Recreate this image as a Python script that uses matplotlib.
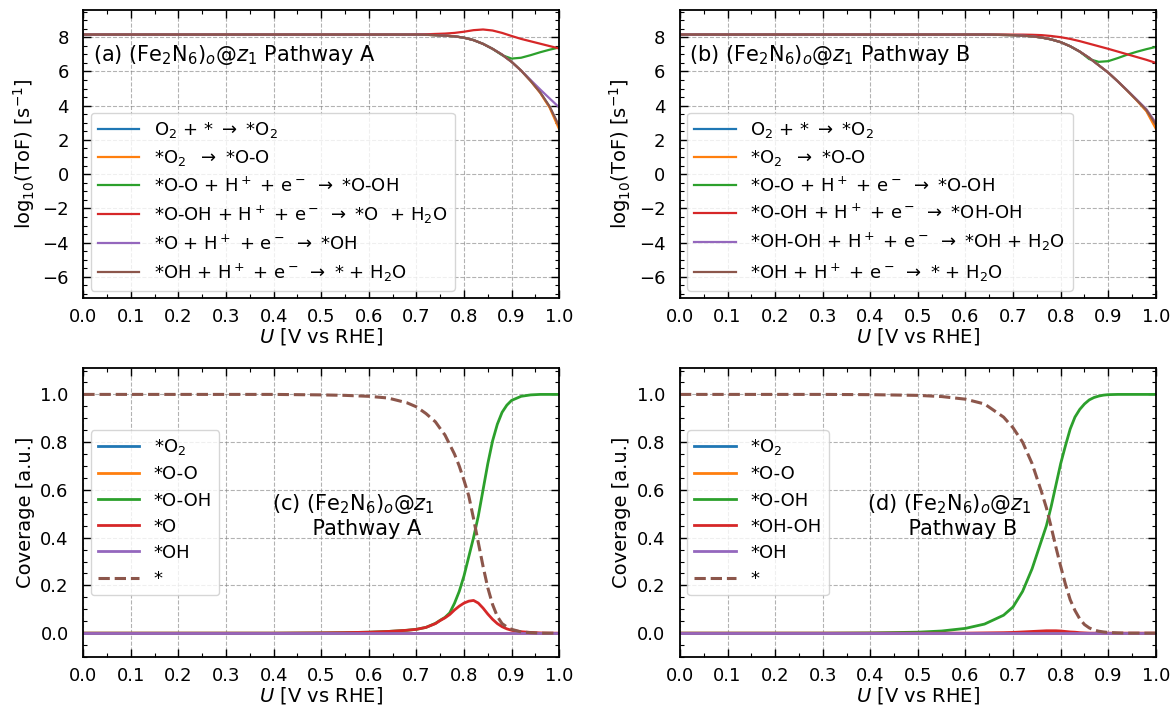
import matplotlib
matplotlib.use("Agg")
import matplotlib.pyplot as plt
from matplotlib.ticker import MultipleLocator

# ---------------- data ----------------
U_tof = [0.0, 0.1, 0.2, 0.3, 0.4, 0.5, 0.6, 0.64, 0.66, 0.68, 0.70, 0.72, 0.74, 0.76, 0.78,
         0.80, 0.82, 0.84, 0.86, 0.88, 0.90, 0.92, 0.94, 0.96, 0.98, 1.0]

# Pathway A  log10(ToF)
tofA_1 = [8.15, 8.15, 8.15, 8.15, 8.15, 8.15, 8.15, 8.15, 8.15, 8.15, 8.15, 8.14, 8.12, 8.09, 8.05,
          7.97, 7.83, 7.61, 7.32, 6.98, 6.56, 6.05, 5.45, 4.78, 3.93, 2.75]
tofA_2 = [8.15, 8.15, 8.15, 8.15, 8.15, 8.15, 8.15, 8.15, 8.15, 8.15, 8.15, 8.14, 8.12, 8.09, 8.05,
          7.97, 7.83, 7.61, 7.32, 6.98, 6.56, 6.05, 5.44, 4.75, 3.88, 2.62]
tofA_3 = [8.15, 8.15, 8.15, 8.15, 8.15, 8.15, 8.15, 8.15, 8.15, 8.15, 8.15, 8.14, 8.12, 8.09, 8.05,
          7.97, 7.83, 7.61, 7.32, 6.95, 6.75, 6.80, 6.95, 7.12, 7.27, 7.40]
tofA_4 = [8.15, 8.15, 8.15, 8.15, 8.15, 8.15, 8.15, 8.15, 8.15, 8.15, 8.16, 8.17, 8.19, 8.21, 8.25,
          8.32, 8.41, 8.45, 8.39, 8.25, 8.07, 7.90, 7.76, 7.62, 7.48, 7.34]
tofA_5 = [8.15, 8.15, 8.15, 8.15, 8.15, 8.15, 8.15, 8.15, 8.15, 8.15, 8.15, 8.14, 8.12, 8.09, 8.05,
          7.97, 7.83, 7.61, 7.32, 6.98, 6.56, 6.05, 5.50, 4.95, 4.42, 3.90]
tofA_6 = [8.15, 8.15, 8.15, 8.15, 8.15, 8.15, 8.15, 8.15, 8.15, 8.15, 8.15, 8.14, 8.12, 8.09, 8.05,
          7.97, 7.83, 7.61, 7.32, 6.98, 6.56, 6.05, 5.45, 4.78, 3.95, 2.80]

# Pathway B  log10(ToF)
tofB_1 = [8.15, 8.15, 8.15, 8.15, 8.15, 8.15, 8.15, 8.15, 8.14, 8.13, 8.12, 8.09, 8.05, 7.98, 7.87,
          7.71, 7.47, 7.16, 6.79, 6.36, 5.93, 5.42, 4.88, 4.32, 3.72, 2.80]
tofB_2 = [8.15, 8.15, 8.15, 8.15, 8.15, 8.15, 8.15, 8.15, 8.14, 8.13, 8.12, 8.09, 8.05, 7.98, 7.87,
          7.71, 7.47, 7.16, 6.79, 6.36, 5.93, 5.42, 4.87, 4.30, 3.68, 2.65]
tofB_3 = [8.15, 8.15, 8.15, 8.15, 8.15, 8.15, 8.15, 8.15, 8.14, 8.13, 8.12, 8.09, 8.05, 7.98, 7.87,
          7.71, 7.47, 7.16, 6.72, 6.56, 6.60, 6.78, 6.98, 7.15, 7.30, 7.43]
tofB_4 = [8.15, 8.15, 8.15, 8.15, 8.15, 8.15, 8.15, 8.15, 8.15, 8.15, 8.15, 8.15, 8.14, 8.12, 8.07,
          8.00, 7.90, 7.77, 7.62, 7.47, 7.32, 7.16, 7.00, 6.84, 6.68, 6.50]
tofB_5 = [8.15, 8.15, 8.15, 8.15, 8.15, 8.15, 8.15, 8.15, 8.14, 8.13, 8.12, 8.09, 8.05, 7.98, 7.87,
          7.71, 7.47, 7.16, 6.79, 6.36, 5.93, 5.42, 4.89, 4.35, 3.80, 3.00]
tofB_6 = [8.15, 8.15, 8.15, 8.15, 8.15, 8.15, 8.15, 8.15, 8.14, 8.13, 8.12, 8.09, 8.05, 7.98, 7.87,
          7.71, 7.47, 7.16, 6.79, 6.36, 5.93, 5.42, 4.88, 4.32, 3.75, 2.90]

U_cov = [0.0, 0.1, 0.2, 0.3, 0.4, 0.5, 0.55, 0.6, 0.64, 0.68, 0.70, 0.72, 0.74, 0.75, 0.76, 0.77,
         0.78, 0.79, 0.80, 0.81, 0.82, 0.83, 0.84, 0.85, 0.86, 0.87, 0.88, 0.89, 0.90, 0.92,
         0.94, 0.96, 0.98, 1.0]

zeros_cov = [0.0] * len(U_cov)

covA_OOH = [0, 0, 0, 0, 0, 0.001, 0.002, 0.004, 0.007, 0.012, 0.016, 0.024, 0.041, 0.054, 0.066,
            0.085, 0.125, 0.175, 0.24, 0.32, 0.40, 0.49, 0.60, 0.71, 0.805, 0.875, 0.925, 0.955,
            0.975, 0.992, 0.998, 1.0, 1.0, 1.0]
covA_O = [0, 0, 0, 0, 0, 0.001, 0.002, 0.004, 0.007, 0.012, 0.016, 0.024, 0.040, 0.053, 0.064,
          0.078, 0.097, 0.113, 0.126, 0.134, 0.137, 0.126, 0.105, 0.080, 0.058, 0.040, 0.027,
          0.018, 0.012, 0.006, 0.003, 0.001, 0, 0]
covA_free = [1.0, 1.0, 1.0, 1.0, 1.0, 0.998, 0.996, 0.992, 0.985, 0.965, 0.948, 0.92, 0.885, 0.857,
             0.83, 0.79, 0.75, 0.70, 0.64, 0.575, 0.48, 0.38, 0.28, 0.19, 0.12, 0.07, 0.04, 0.026,
             0.016, 0.005, 0.002, 0, 0, 0]

covB_OOH = [0, 0, 0, 0, 0.001, 0.004, 0.009, 0.02, 0.038, 0.075, 0.11, 0.175, 0.27, 0.33, 0.39,
            0.45, 0.53, 0.62, 0.71, 0.785, 0.855, 0.905, 0.937, 0.96, 0.977, 0.987, 0.993, 0.997,
            0.999, 1.0, 1.0, 1.0, 1.0, 1.0]
covB_OHOH = [0, 0, 0, 0, 0, 0, 0, 0, 0.001, 0.002, 0.003, 0.005, 0.007, 0.008, 0.009, 0.010,
             0.010, 0.010, 0.009, 0.007, 0.005, 0.004, 0.002, 0.001, 0, 0, 0, 0, 0, 0, 0, 0, 0, 0]
covB_free = [1.0, 1.0, 1.0, 1.0, 0.999, 0.996, 0.991, 0.98, 0.96, 0.905, 0.86, 0.80, 0.71, 0.65,
             0.59, 0.525, 0.445, 0.36, 0.28, 0.205, 0.14, 0.095, 0.06, 0.036, 0.022, 0.013, 0.008,
             0.005, 0.003, 0.001, 0, 0, 0, 0]

labels_A = [r"O$_2$ + * $\rightarrow$ *O$_2$",
            r"*O$_2$  $\rightarrow$ *O-O",
            r"*O-O + H$^+$ + e$^-$ $\rightarrow$ *O-OH",
            r"*O-OH + H$^+$ + e$^-$ $\rightarrow$ *O  + H$_2$O",
            r"*O + H$^+$ + e$^-$ $\rightarrow$ *OH",
            r"*OH + H$^+$ + e$^-$ $\rightarrow$ * + H$_2$O"]
labels_B = [r"O$_2$ + * $\rightarrow$ *O$_2$",
            r"*O$_2$  $\rightarrow$ *O-O",
            r"*O-O + H$^+$ + e$^-$ $\rightarrow$ *O-OH",
            r"*O-OH + H$^+$ + e$^-$ $\rightarrow$ *OH-OH",
            r"*OH-OH + H$^+$ + e$^-$ $\rightarrow$ *OH + H$_2$O",
            r"*OH + H$^+$ + e$^-$ $\rightarrow$ * + H$_2$O"]
cov_labels_A = [r"*O$_2$", "*O-O", "*O-OH", "*O", "*OH", "*"]
cov_labels_B = [r"*O$_2$", "*O-O", "*O-OH", "*OH-OH", "*OH", "*"]

titles_tof = [r"(a) (Fe$_2$N$_6$)$_o$@$z_1$ Pathway A", r"(b) (Fe$_2$N$_6$)$_o$@$z_1$ Pathway B"]
titles_cov = ["(c) (Fe$_2$N$_6$)$_o$@$z_1$\n    Pathway A", "(d) (Fe$_2$N$_6$)$_o$@$z_1$\n    Pathway B"]

xticks = [0.0, 0.1, 0.2, 0.3, 0.4, 0.5, 0.6, 0.7, 0.8, 0.9, 1.0]

# ---------------- plotting ----------------
plt.rcParams['font.size'] = 13
colors = plt.rcParams['axes.prop_cycle'].by_key()['color']

fig = plt.figure(figsize=(11.75, 7.15), dpi=100)
axTL = fig.add_axes([0.0709, 0.5828, 0.405, 0.4035])
axTR = fig.add_axes([0.5787, 0.5828, 0.405, 0.4035])
axBL = fig.add_axes([0.0709, 0.0811, 0.405, 0.404])
axBR = fig.add_axes([0.5787, 0.0811, 0.405, 0.404])


def style(ax, top):
    ax.set_xlim(0, 1)
    ax.set_xticks(xticks)
    ax.xaxis.set_minor_locator(MultipleLocator(0.05))
    if top:
        ax.set_ylim(-7.25, 9.6)
        ax.yaxis.set_major_locator(MultipleLocator(2))
        ax.yaxis.set_minor_locator(MultipleLocator(0.5))
        ax.set_ylabel(r"log$_{10}$(ToF) [s$^{-1}$]", fontsize=14, labelpad=4)
    else:
        ax.set_ylim(-0.1, 1.11)
        ax.yaxis.set_major_locator(MultipleLocator(0.2))
        ax.yaxis.set_minor_locator(MultipleLocator(0.05))
        ax.set_ylabel("Coverage [a.u.]", fontsize=14, labelpad=4)
    ax.set_xlabel(r"$U$ [V vs RHE]", fontsize=14, labelpad=0)
    ax.tick_params(which='both', direction='in', top=True, right=True, labelsize=13)
    ax.tick_params(which='major', length=6, width=1.0)
    ax.tick_params(which='minor', length=3, width=0.8)
    ax.tick_params(axis='y', which='both', pad=10.5)
    ax.tick_params(axis='x', which='both', pad=7)
    ax.grid(True, which='major', linestyle='--', color='gray', alpha=0.6, linewidth=0.8)
    for s in ax.spines.values():
        s.set_linewidth(1.3)


tofA = [tofA_1, tofA_2, tofA_3, tofA_4, tofA_5, tofA_6]
tofB = [tofB_1, tofB_2, tofB_3, tofB_4, tofB_5, tofB_6]
for ax, data, labels, title in [(axTL, tofA, labels_A, titles_tof[0]),
                                (axTR, tofB, labels_B, titles_tof[1])]:
    for i, (y, lab) in enumerate(zip(data, labels)):
        ax.plot(U_tof, y, color=colors[i], lw=1.6, label=lab)
    style(ax, True)
    ax.legend(loc='lower left', fontsize=13, handlelength=2.3, borderaxespad=0.4,
              labelspacing=0.45)
    ax.text(0.02, 0.845, title, transform=ax.transAxes, fontsize=15, va='center', ha='left')

covA = [zeros_cov, zeros_cov, covA_OOH, covA_O, zeros_cov, covA_free]
covB = [zeros_cov, zeros_cov, covB_OOH, covB_OHOH, zeros_cov, covB_free]
for ax, data, labels, title in [(axBL, covA, cov_labels_A, titles_cov[0]),
                                (axBR, covB, cov_labels_B, titles_cov[1])]:
    for i, (y, lab) in enumerate(zip(data, labels)):
        if i == 5:
            ax.plot(U_cov, y, color=colors[i], lw=2.2, ls='--', label=lab)
        else:
            ax.plot(U_cov, y, color=colors[i], lw=2.0, label=lab)
    style(ax, False)
    ax.legend(loc='center left', fontsize=13, handlelength=2.3, borderaxespad=0.4,
              labelspacing=0.45)
    ax.text(0.567, 0.49, title, transform=ax.transAxes, fontsize=15, ha='center', va='center',
            multialignment='center')

fig.savefig("out.png", dpi=100)
